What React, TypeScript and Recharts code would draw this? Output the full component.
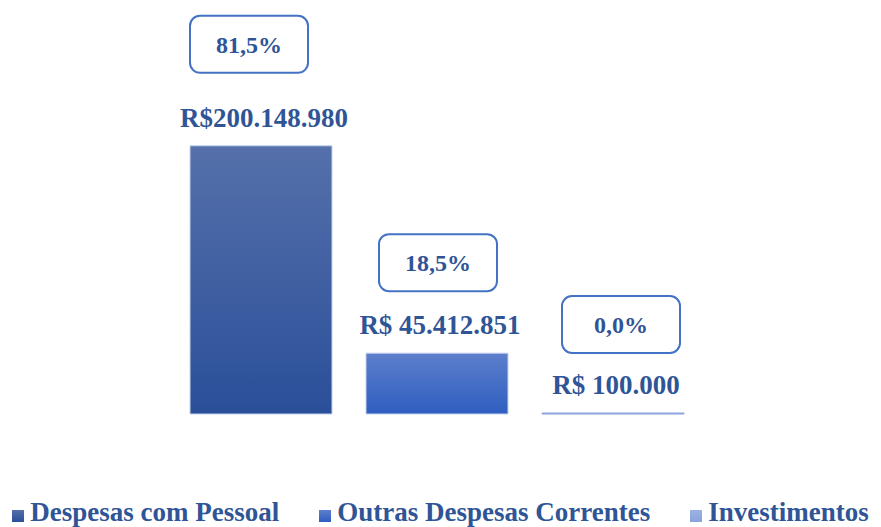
import { Bar, BarChart, LabelList, Legend, XAxis, YAxis } from 'recharts';

const CATEGORY = 'Despesas';
const SERIES_KEYS = ['pessoal', 'outras', 'investimentos'];
const SERIES_NAMES = ['Despesas com Pessoal', 'Outras Despesas Correntes', 'Investimentos'];
const SERIES_VALUES = [200148980, 45412851, 100000];

const GRADIENTS = [
  ['#5570AA', '#2A4F99'],
  ['#5D7ECC', '#2E5FC0'],
  ['#9DB2E4', '#8AA3DC']
];
const BOX_SHIFT = [
  { dx: -12, dy: -130 },
  { dx: 1, dy: -119 },
  { dx: 8, dy: -117 }
];
const TEXT_COLOR = '#2F5597';
const FONT = '"Liberation Serif", "Times New Roman", serif';

const total = SERIES_VALUES.reduce((a, b) => a + b, 0);
const row: Record<string, string | number> = { name: CATEGORY };
SERIES_KEYS.forEach((k, i) => {
  row[k] = SERIES_VALUES[i];
});
const data = [row];

const formatMoney = (v: number) => {
  const s = String(Math.round(v)).replace(/\B(?=(\d{3})+(?!\d))/g, '.');
  return v >= 1e8 ? `R$${s}` : `R$ ${s}`;
};
const formatPct = (v: number) => `${((v / total) * 100).toFixed(1).replace('.', ',')}%`;

const makeLabel = (index: number) => (props: any) => {
  const { x, y, width, value } = props;
  const cx = Number(x) + Number(width) / 2;
  const top = Number(y);
  const shift = BOX_SHIFT[index];
  const bx = cx + shift.dx - 59;
  const by = top + shift.dy;
  return (
    <g>
      <rect x={bx} y={by} width={118} height={57} rx={10} fill="#fff" stroke="#4472C4" strokeWidth={2} />
      <text x={bx + 59} y={by + 37} textAnchor="middle" fontFamily={FONT} fontWeight="bold" fontSize={24} fill={TEXT_COLOR}>
        {formatPct(Number(value))}
      </text>
      <text x={cx + 3} y={top - 19} textAnchor="middle" fontFamily={FONT} fontWeight="bold" fontSize={27} fill={TEXT_COLOR}>
        {formatMoney(Number(value))}
      </text>
    </g>
  );
};

const LegendContent = () => (
  <div
    style={{
      display: 'flex',
      justifyContent: 'center',
      gap: 40,
      height: 29,
      fontFamily: FONT,
      fontWeight: 'bold',
      fontSize: 27,
      color: TEXT_COLOR,
      whiteSpace: 'nowrap'
    }}
  >
    {SERIES_NAMES.map((name, i) => (
      <div key={name} style={{ display: 'flex', alignItems: 'flex-start' }}>
        <span
          style={{
            display: 'inline-block',
            width: 12,
            height: 12,
            marginTop: 12,
            marginRight: 6,
            background: `linear-gradient(${GRADIENTS[i][0]}, ${GRADIENTS[i][1]})`
          }}
        />
        <span style={{ display: 'inline-block', lineHeight: '29px' }}>{name}</span>
      </div>
    ))}
  </div>
);

export default function App() {
  return (
    <div style={{ position: 'absolute', left: 0, top: 0, width: 881, height: 527, background: '#fff', overflow: 'hidden' }}>
      <BarChart
        width={881}
        height={527}
        data={data}
        margin={{ top: 79, right: 7, bottom: 84, left: 0 }}
        barSize={142}
        barGap={34}
      >
        <defs>
          {GRADIENTS.map((g, i) => (
            <linearGradient key={i} id={`grad${i}`} x1="0" y1="0" x2="0" y2="1">
              <stop offset="0%" stopColor={g[0]} />
              <stop offset="100%" stopColor={g[1]} />
            </linearGradient>
          ))}
        </defs>
        <XAxis dataKey="name" hide />
        <YAxis hide domain={[0, 250000000]} />
        <Legend
          verticalAlign="bottom"
          content={<LegendContent />}
          wrapperStyle={{ top: 498, bottom: 'auto', left: 0, width: 881, height: 29 }}
        />
        {SERIES_KEYS.map((k, i) => (
          <Bar
            key={k}
            dataKey={k}
            name={SERIES_NAMES[i]}
            fill={`url(#grad${i})`}
            stroke={i === 2 ? '#8AA3DC' : '#C5D2EE'}
            strokeWidth={1}
            minPointSize={1}
            isAnimationActive={false}
          >
            <LabelList dataKey={k} content={makeLabel(i)} />
          </Bar>
        ))}
      </BarChart>
    </div>
  );
}
